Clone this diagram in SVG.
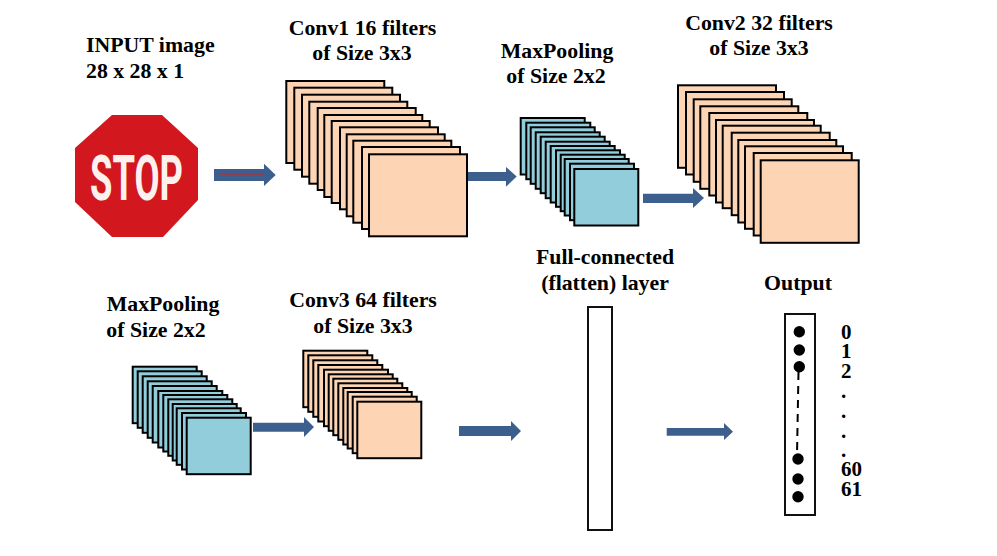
<svg xmlns="http://www.w3.org/2000/svg" width="997" height="556" viewBox="0 0 997 556">
<style>
text{font-family:"Liberation Serif","Times New Roman",serif;font-weight:700;font-size:21.800px;fill:#000}
.c{text-anchor:middle}
.d{font-size:21px}
.p rect{fill:#fdd5b4;stroke:#000;stroke-width:2}
.b rect{fill:#92cddc;stroke:#000;stroke-width:2}
.a{fill:#3c5f8d}
.box{fill:#fff;stroke:#111;stroke-width:2}
</style>
<rect width="997" height="556" fill="#fff"/>
<g id="input">
<text x="86" y="52">INPUT image</text>
<text x="86" y="78">28 x 28 x 1</text>
<polygon points="112,115 162,115 198,148 198,200 163,237 112,237 75,202 75,148" fill="#d2171e"/>
<text x="90" y="200" textLength="93" lengthAdjust="spacingAndGlyphs" style="font-family:Roboto,sans-serif;font-weight:700;font-size:63px;fill:#fdf1ef">STOP</text>
</g>
<g id="conv1" class="p">
<text class="c" x="362.500" y="35">Conv1 16 filters</text>
<text class="c" x="362" y="60">of Size 3x3</text>
<rect x="286.300" y="81" width="98" height="82"/><rect x="294.300" y="87.700" width="98" height="82"/><rect x="302" y="94.700" width="98" height="82"/><rect x="309.300" y="101.700" width="98" height="82"/><rect x="317.700" y="108" width="98" height="82"/><rect x="324.300" y="115" width="98" height="82"/><rect x="331.700" y="121" width="98" height="82"/><rect x="340" y="127.300" width="98" height="82"/><rect x="346.700" y="134.300" width="98" height="82"/><rect x="353.300" y="140.700" width="98" height="82"/><rect x="362" y="147" width="98" height="82"/><rect x="369" y="154.300" width="98" height="82"/>
</g>
<g id="maxpool1" class="b">
<text class="c" x="557" y="58">MaxPooling</text>
<text class="c" x="556" y="83">of Size 2x2</text>
<rect x="520.700" y="118" width="64" height="56.500"/><rect x="526.300" y="122.700" width="64" height="56.500"/><rect x="530.700" y="127.300" width="64" height="56.500"/><rect x="535.700" y="132.300" width="64" height="56.500"/><rect x="540.700" y="136.700" width="64" height="56.500"/><rect x="545.700" y="141.700" width="64" height="56.500"/><rect x="550.700" y="146" width="64" height="56.500"/><rect x="556" y="150.300" width="64" height="56.500"/><rect x="560.700" y="154.700" width="64" height="56.500"/><rect x="564.700" y="159" width="64" height="56.500"/><rect x="570" y="163.700" width="64" height="56.500"/><rect x="574.300" y="169" width="64" height="56.500"/>
</g>
<g id="conv2" class="p">
<text class="c" x="759" y="30">Conv2 32 filters</text>
<text class="c" x="759" y="55">of Size 3x3</text>
<rect x="678" y="85.300" width="98" height="82.500"/><rect x="686" y="92" width="98" height="82.500"/><rect x="693.700" y="99.300" width="98" height="82.500"/><rect x="700.300" y="106.300" width="98" height="82.500"/><rect x="709.300" y="113" width="98" height="82.500"/><rect x="716" y="120" width="98" height="82.500"/><rect x="722.700" y="125.700" width="98" height="82.500"/><rect x="731.700" y="132.700" width="98" height="82.500"/><rect x="738.300" y="140" width="98" height="82.500"/><rect x="745" y="146.300" width="98" height="82.500"/><rect x="753.700" y="153" width="98" height="82.500"/><rect x="760.700" y="160.300" width="98" height="82.500"/>
</g>
<g id="maxpool2" class="b">
<text class="c" x="163" y="311">MaxPooling</text>
<text class="c" x="156" y="337">of Size 2x2</text>
<rect x="132.700" y="366.700" width="64" height="56.500"/><rect x="137.700" y="371.300" width="64" height="56.500"/><rect x="142.700" y="376.300" width="64" height="56.500"/><rect x="147.700" y="381.300" width="64" height="56.500"/><rect x="152.700" y="386" width="64" height="56.500"/><rect x="158.300" y="391" width="64" height="56.500"/><rect x="163.300" y="395" width="64" height="56.500"/><rect x="168.300" y="399.300" width="64" height="56.500"/><rect x="172.700" y="404" width="64" height="56.500"/><rect x="176.700" y="408.300" width="64" height="56.500"/><rect x="182" y="413" width="64" height="56.500"/><rect x="186.700" y="417.700" width="64" height="56.500"/>
</g>
<g id="conv3" class="p">
<text class="c" x="363" y="307">Conv3 64 filters</text>
<text class="c" x="363" y="333">of Size 3x3</text>
<rect x="303.300" y="350.700" width="64" height="56.500"/><rect x="308.300" y="355.300" width="64" height="56.500"/><rect x="313.300" y="360.300" width="64" height="56.500"/><rect x="318.300" y="365" width="64" height="56.500"/><rect x="324" y="369.700" width="64" height="56.500"/><rect x="328.700" y="374.300" width="64" height="56.500"/><rect x="333.300" y="378.700" width="64" height="56.500"/><rect x="338.300" y="383.300" width="64" height="56.500"/><rect x="343.300" y="388" width="64" height="56.500"/><rect x="347.700" y="392" width="64" height="56.500"/><rect x="352.700" y="396.700" width="64" height="56.500"/><rect x="357.300" y="401.700" width="64" height="56.500"/>
</g>
<g id="fc">
<text class="c" x="605" y="264">Full-connected</text>
<text class="c" x="605" y="290">(flatten) layer</text>
<rect class="box" x="588" y="307" width="24" height="223"/>
</g>
<g id="output">
<text class="c" x="798" y="290">Output</text>
<rect class="box" x="785" y="314" width="30" height="201"/>
<circle cx="799.300" cy="331.700" r="5.700"/><circle cx="799.300" cy="350" r="5.700"/><circle cx="799.300" cy="366.700" r="5.700"/>
<line x1="798.500" y1="372" x2="797" y2="455" stroke="#000" stroke-width="2" stroke-dasharray="8 6"/>
<circle cx="798" cy="459" r="5.700"/><circle cx="798" cy="479" r="5.700"/><circle cx="798" cy="496.700" r="5.700"/>
<text class="d" x="841" y="339">0</text><text class="d" x="841" y="358">1</text><text class="d" x="841" y="378">2</text>
<text class="d" x="841" y="398">.</text><text class="d" x="841" y="418">.</text><text class="d" x="841" y="438">.</text><text class="d" x="841" y="457">.</text>
<text class="d" x="841" y="476">60</text><text class="d" x="841" y="496">61</text>
</g>
<g id="connectors">
<polygon class="a" points="214,169 264,169 264,163.700 275.700,175 264,186 264,181 214,181"/>
<line x1="220" y1="175" x2="264" y2="175" stroke="#b03040" stroke-width="1.500"/>
<polygon class="a" points="468,172 506,172 506,167 516.700,176.500 506,186.700 506,181 468,181"/>
<polygon class="a" points="643,193.700 693,193.700 693,188 704,198 693,208 693,203 643,203"/>
<polygon class="a" points="253,422.700 304,422.700 304,417 314,427 304,437 304,431.700 253,431.700"/>
<polygon class="a" points="459,426 511,426 511,421 521,431 511,441 511,436 459,436"/>
<polygon class="a" points="666.700,428 724,428 724,423 733,431.700 724,440 724,435.700 666.700,435.700"/>
</g>
</svg>
